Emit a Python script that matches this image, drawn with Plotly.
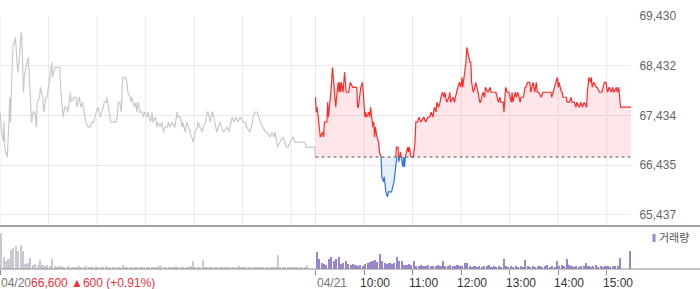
import plotly.graph_objects as go

# ---------------- data ----------------
prev_close = 66600          # 04/20 close, baseline for 04/21
day1_label = "04/20"
day2_label = "04/21"
day1_summary = ["66,600", "▲600 (+0.91%)"]

# minutes after 09:00 and price (04/20)
day1_min = [0, 1, 2, 4, 5, 6, 7, 9, 10, 11, 12, 13, 15, 16, 19, 20, 22, 24, 26, 27, 29, 30, 32, 35, 36, 39, 41, 43, 45, 46,
            49, 50, 53, 54, 57, 58, 61, 64, 65, 68, 74, 75, 78, 80, 82, 84, 87, 88, 92, 94, 95, 98, 100, 102, 104, 106,
            109, 111, 114, 116, 119, 121, 124, 126, 129, 131, 132, 134, 137, 140, 143, 145, 146, 148, 150, 151, 152,
            155, 157, 158, 161, 162, 163, 166, 168, 169, 171, 173, 176, 177, 179, 182, 183, 186, 188, 189, 192, 194,
            195, 198, 200, 202, 204, 207, 208, 210, 213, 216, 219, 220, 223, 225, 226, 229, 231, 233, 235, 237, 239,
            241, 244, 245, 247, 250, 251, 254, 256, 257, 260, 262, 263, 268, 272, 276, 281, 283, 287, 289, 292, 294,
            297, 301, 303, 305, 309, 312, 313, 315, 318, 322, 325, 328, 330, 334, 336, 339, 340, 343, 346, 350, 354,
            356, 359, 362, 365, 367, 377, 378, 389, 390]
day1_price = [67500, 67300, 67100, 66900, 67300, 66800, 66700, 66600, 66900, 67300, 67800, 67300, 68400, 68800, 69000,
              68800, 68300, 68600, 69100, 69000, 67900, 68200, 68400, 68600, 68200, 67300, 67500, 67500, 67200, 67700,
              67800, 68000, 67800, 67500, 67800, 67800, 68100, 68500, 68200, 68400, 68400, 68000, 67400, 67600, 67600,
              67500, 67900, 67700, 67800, 67800, 67600, 67800, 67600, 67700, 67500, 67300, 67200, 67200, 67300, 67300,
              67500, 67600, 67400, 67500, 67700, 67700, 67800, 67600, 67300, 67300, 67300, 67400, 67700, 67700, 67500,
              68000, 68200, 68200, 68100, 67900, 67800, 67700, 67800, 67600, 67700, 67500, 67700, 67500, 67500, 67400,
              67500, 67400, 67500, 67300, 67500, 67300, 67400, 67200, 67300, 67200, 67300, 67100, 67200, 67200, 67300,
              67200, 67300, 67200, 67500, 67400, 67400, 67200, 67300, 67100, 67300, 67200, 67100, 67000, 66900, 67100,
              67200, 67300, 67200, 67100, 67200, 67300, 67500, 67500, 67300, 67500, 67500, 67100, 67300, 67100, 67200,
              67100, 67400, 67300, 67400, 67300, 67400, 67300, 67300, 67200, 67100, 67300, 67400, 67500, 67500, 67300,
              67200, 67100, 67100, 67000, 67100, 67000, 67100, 66800, 66900, 67000, 66800, 66800, 66900, 67000, 66900,
              66900, 66900, 66800, 66800, 66600]

# minutes after 09:00 and price (04/21)
day2_min = [0, 1, 2, 4, 6, 9, 10, 11, 14, 15, 16, 17, 19, 21, 22, 24, 25, 26, 28, 29, 30, 31, 32, 34, 36, 38, 41, 42,
            43, 46, 48, 51, 52, 53, 56, 58, 59, 61, 62, 63, 66, 67, 68, 71, 72, 73, 74, 76, 78, 79, 81, 82, 84, 85, 87,
            89, 90, 94, 97, 98, 99, 100, 102, 103, 104, 105, 106, 108, 109, 110, 111, 114, 115, 116, 118, 121, 123,
            124, 126, 128, 130, 134, 136, 139, 141, 143, 145, 147, 149, 150, 152, 154, 155, 157, 159, 160, 161, 162,
            165, 166, 167, 170, 172, 173, 176, 178, 180, 181, 182, 185, 186, 187, 190, 191, 192, 193, 195, 197, 198,
            201, 203, 204, 207, 209, 210, 213, 216, 217, 219, 222, 223, 226, 228, 229, 232, 233, 234, 235, 237, 239,
            242, 243, 244, 247, 248, 250, 253, 254, 257, 259, 260, 262, 265, 266, 269, 271, 273, 274, 276, 279, 281,
            284, 288, 291, 292, 295, 297, 299, 300, 301, 304, 305, 306, 309, 310, 311, 314, 316, 317, 320, 322, 323,
            326, 328, 330, 332, 335, 336, 338, 340, 341, 342, 344, 347, 348, 351, 353, 354, 357, 359, 361, 363, 366,
            367, 369, 372, 373, 375, 377, 379, 390]
day2_price = [67800, 67500, 67600, 67300, 67000, 67100, 67000, 67300, 67300, 67700, 67400, 67600, 67900, 68400, 68200,
              67700, 67600, 67800, 68100, 67900, 68100, 67900, 68100, 67900, 68300, 67900, 67900, 68000, 68100, 68000,
              68000, 68000, 67600, 67600, 68000, 68100, 67900, 67400, 67500, 67400, 67500, 67400, 67600, 67200, 67300,
              67000, 67200, 67000, 66900, 66700, 66600, 66200, 66100, 66200, 65900, 65800, 65900, 65900, 66100, 66300,
              66600, 66800, 66800, 66500, 66600, 66700, 66600, 66400, 66600, 66400, 66600, 66800, 66700, 66800, 66600,
              66600, 66900, 67300, 67300, 67400, 67300, 67400, 67300, 67400, 67400, 67500, 67400, 67600, 67500, 67700,
              67600, 67700, 67800, 67900, 67800, 67900, 67800, 67700, 67800, 67900, 67700, 67800, 67700, 67800, 68000,
              68100, 68000, 68200, 68000, 68400, 68500, 68800, 68600, 68500, 68500, 68100, 67900, 68000, 68100, 67900,
              67700, 67700, 67900, 67800, 68000, 67900, 68000, 67900, 67900, 67900, 67900, 67700, 67800, 67700, 67700,
              67500, 67800, 68000, 67900, 67900, 67700, 67900, 67700, 67900, 67800, 67900, 67700, 67800, 67800, 68000,
              68000, 68100, 68100, 67900, 68100, 67900, 68100, 67900, 67900, 67800, 67900, 67900, 67900, 67900, 67800,
              68000, 68100, 68200, 68000, 68100, 67900, 67900, 67800, 67800, 67800, 67700, 67700, 67800, 67700, 67700,
              67600, 67700, 67600, 67700, 67600, 67700, 67600, 67900, 68200, 68100, 68200, 68000, 68100, 68000, 68000,
              67900, 67900, 67900, 68100, 68100, 67900, 68000, 67900, 68000, 67900, 68000, 67900, 68000, 67600, 67600,
              67600]

# volume per 3-minute bin (thousand shares)
vol_bin = 3
day1_vol = [360, 120, 80, 100, 190, 210, 230, 180, 240, 180,
            50, 60, 110, 40, 50, 40, 90, 40, 30, 40,
            30, 100, 30, 25, 30, 20, 25, 20, 30, 20,
            25, 20, 30, 20, 25, 30, 20, 25, 20, 30,
            20, 25, 20, 30, 20, 25, 20, 20, 25, 20,
            40, 20, 25, 15, 20, 15, 20, 15, 20, 15,
            20, 25, 20, 15, 20, 30, 30, 20, 25, 20,
            25, 20, 30, 20, 25, 20, 25, 20, 30, 80,
            20, 25, 20, 90, 20, 25, 20, 15, 20, 15,
            20, 15, 20, 20, 15, 20, 25, 20, 30, 20,
            15, 20, 15, 20, 25, 20, 15, 25, 15, 20,
            15, 20, 15, 20, 140, 20, 15, 20, 15, 20,
            15, 20, 15, 20, 15, 20, 40, 0, 0, 0]
day2_vol = [170, 100, 60, 50, 40, 100, 120, 80, 100, 120,
            50, 60, 80, 50, 40, 50, 40, 30, 40, 30,
            50, 60, 70, 80, 90, 70, 150, 80, 60, 50,
            60, 50, 60, 120, 80, 80, 40, 40, 50, 40,
            80, 30, 30, 40, 30, 30, 40, 30, 30, 30,
            40, 30, 80, 30, 30, 40, 30, 30, 40, 30,
            30, 60, 60, 30, 25, 30, 25, 30, 25, 30,
            30, 45, 25, 30, 25, 30, 25, 100, 30, 25,
            30, 25, 30, 25, 30, 25, 90, 30, 25, 30,
            25, 30, 30, 25, 30, 45, 25, 30, 25, 80,
            30, 40, 30, 100, 40, 30, 25, 30, 25, 30,
            30, 65, 30, 25, 30, 45, 25, 30, 25, 30,
            30, 25, 35, 30, 30, 110, 0, 0, 0, 180]

y_tickvals = [65437, 66435, 67434, 68432, 69430]
y_ticktext = ["65,437", "66,435", "67,434", "68,432", "69,430"]
hour_labels = ["10:00", "11:00", "12:00", "13:00", "14:00", "15:00"]
session_len = 390   # minutes 09:00-15:30

# ---------------- geometry / style ----------------
W, H = 700, 289
ML, MR, MT, MB = 0, 69, 0, 20
PH = H - MT - MB
PW = W - ML - MR


def fy(px):
    return (H - MB - px) / PH


main_top, main_bot = 16, 226
vol_top = 230
y_min, y_max = 65215, 69431
f_top, f_bot = fy(main_top), fy(main_bot)
f_base = f_bot + (f_top - f_bot) * (prev_close - y_min) / (y_max - y_min)

FONT = "Liberation Sans, Arial, Noto Sans CJK KR, sans-serif"
RED = "#ff2b2b"
BLUE = "#2f74dc"
GRAY_LINE = "#c6c9ce"
PURPLE = "#9786cc"
GRID = "#e9e9eb"
CLEAR = "rgba(0,0,0,0)"

d2x = [session_len + m for m in day2_min]
base2 = [prev_close] * len(d2x)

fig = go.Figure()
fig.add_trace(go.Scatter(x=day1_min, y=day1_price, mode="lines", line=dict(color=GRAY_LINE, width=1.2),
                         xaxis="x", yaxis="y", hoverinfo="skip"))
# above-baseline part (clipped by y2 domain)
fig.add_trace(go.Scatter(x=d2x, y=base2, mode="lines", line=dict(width=0), xaxis="x", yaxis="y2", hoverinfo="skip"))
fig.add_trace(go.Scatter(x=d2x, y=day2_price, mode="lines", line=dict(color=RED, width=1.2), fill="tonexty",
                         fillcolor="rgba(252,60,75,0.13)", xaxis="x", yaxis="y2", hoverinfo="skip"))
# below-baseline part (clipped by y3 domain)
fig.add_trace(go.Scatter(x=d2x, y=base2, mode="lines", line=dict(width=0), xaxis="x", yaxis="y3", hoverinfo="skip"))
fig.add_trace(go.Scatter(x=d2x, y=day2_price, mode="lines", line=dict(color=BLUE, width=1.2), fill="tonexty",
                         fillcolor="rgba(60,120,220,0.13)", xaxis="x", yaxis="y3", hoverinfo="skip"))
# volume
v1x = [i * vol_bin + vol_bin / 2 for i in range(len(day1_vol))]
v2x = [session_len + i * vol_bin + vol_bin / 2 for i in range(len(day2_vol))]
fig.add_trace(go.Bar(x=v1x, y=day1_vol, width=2.6, marker=dict(color="#c9cacf", line=dict(width=0)),
                     xaxis="x2", yaxis="y4", hoverinfo="skip"))
fig.add_trace(go.Bar(x=v2x, y=day2_vol, width=2.6, marker=dict(color=PURPLE, line=dict(width=0)),
                     xaxis="x2", yaxis="y4", hoverinfo="skip"))

grid_x = [0] + [h * 60 for h in range(1, 7)] + [session_len] + [session_len + h * 60 for h in range(1, 7)]
tick_x = [0, session_len] + [session_len + h * 60 for h in range(1, 7)]

fig.update_layout(
    width=W, height=H, margin=dict(l=ML, r=MR, t=MT, b=MB, autoexpand=False),
    paper_bgcolor="white", plot_bgcolor=CLEAR, showlegend=False, bargap=0,
    font=dict(family=FONT, size=12, color="#666"),
    xaxis=dict(domain=[0, 1], range=[0, 2 * session_len], anchor="y", showticklabels=False, automargin=False,
               showgrid=False, zeroline=False, showline=False, ticks=""),
    xaxis2=dict(domain=[0, 1], range=[0, 2 * session_len], anchor="y4", tickvals=tick_x, showticklabels=False,
                showgrid=False, zeroline=False, showline=False, ticks="outside", ticklen=5, tickcolor="#8a8d92",
                tickwidth=1, automargin=False),
    yaxis=dict(domain=[f_bot, f_top], range=[y_min, y_max], side="right", anchor="x", tickvals=y_tickvals,
               ticktext=y_ticktext, showgrid=True, gridcolor=GRID, gridwidth=1, zeroline=False, showline=False,
               ticks="outside", ticklen=5, tickcolor=CLEAR, tickfont=dict(size=12, color="#666"), automargin=False),
    yaxis2=dict(domain=[f_base, f_top], range=[prev_close, y_max], anchor="x", visible=False, automargin=False),
    yaxis3=dict(domain=[f_bot, f_base], range=[y_min, prev_close], anchor="x", visible=False, automargin=False),
    yaxis4=dict(domain=[0, fy(vol_top)], range=[0, 390], anchor="x2", visible=False, automargin=False),
)

shapes = [dict(type="line", xref="x", yref="paper", x0=gx, x1=gx, y0=f_bot, y1=f_top,
               line=dict(color=GRID, width=1), layer="below") for gx in grid_x]
shapes += [
    dict(type="line", xref="x", yref="y", x0=session_len, x1=2 * session_len, y0=prev_close, y1=prev_close,
         line=dict(color="#555", width=1, dash="dot"), layer="above"),
    dict(type="line", xref="paper", yref="paper", x0=0, x1=W / PW, y0=f_bot, y1=f_bot,
         line=dict(color="#7f8389", width=1.5)),
    dict(type="line", xref="paper", yref="paper", x0=0, x1=W / PW, y0=0, y1=0,
         line=dict(color="#8a8d92", width=1)),
    dict(type="rect", xref="paper", yref="paper", x0=652.5 / PW, x1=655.5 / PW, y0=fy(242), y1=fy(234),
         fillcolor=PURPLE, line=dict(width=0)),
]
fig.update_layout(shapes=shapes)

label_y = fy(283)
ann = [
    dict(xref="x", yref="paper", x=0, y=label_y, xanchor="left", yanchor="middle", showarrow=False,
         xshift=-1, text=f"<span style='color:#777'>{day1_label}</span><span style='color:#f2303a'>"
                         f"{day1_summary[0]} {day1_summary[1]}</span>", font=dict(size=12)),
    dict(xref="x", yref="paper", x=session_len, y=label_y, xanchor="left", yanchor="middle", showarrow=False,
         xshift=-1, text=day2_label, font=dict(size=12, color="#777")),
    dict(xref="paper", yref="paper", x=657 / PW, y=fy(238), xanchor="left", yanchor="middle", showarrow=False,
         text="거래량", font=dict(size=11, color="#555")),
]
for i, lab in enumerate(hour_labels):
    ann.append(dict(xref="x", yref="paper", x=session_len + (i + 1) * 60, y=label_y, xanchor="left",
                    yanchor="middle", showarrow=False, xshift=-6, text=lab, font=dict(size=12, color="#333")))
fig.update_layout(annotations=ann)

fig.write_html("out.html")
